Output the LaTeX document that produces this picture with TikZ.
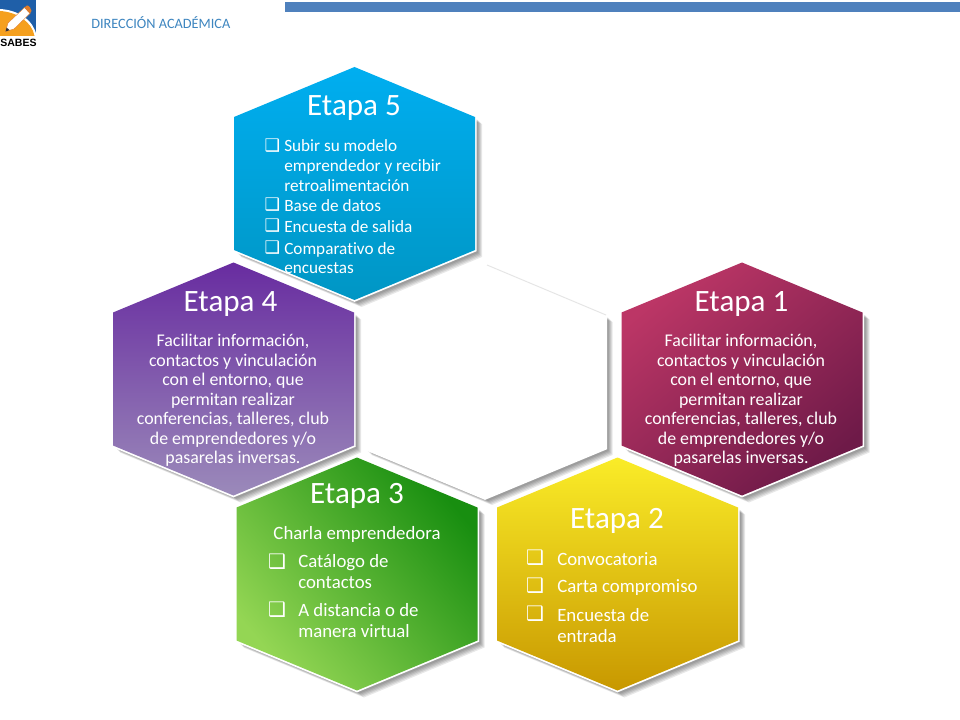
\documentclass[tikz,border=0pt]{standalone}
\usepackage{fontspec}
\setmainfont[RawFeature=-liga]{Carlito}
\newfontfamily\bulfont{DejaVu Sans}
\newfontfamily\logofont{Liberation Sans}
\usetikzlibrary{calc}
\definecolor{barblue}{HTML}{4F81BD}
\definecolor{headblue}{HTML}{3E86C0}
\definecolor{logoblue}{HTML}{1F5FA8}
\definecolor{logoorange}{HTML}{F5A01E}
\definecolor{pencilend}{HTML}{E07B28}
\definecolor{aone}{HTML}{BC3666}
\definecolor{bone}{HTML}{6E1A48}
\definecolor{afour}{HTML}{682CA0}
\definecolor{bfour}{HTML}{9B8ABA}
\definecolor{atwo}{HTML}{FAEC28}
\definecolor{btwo}{HTML}{C89800}
\definecolor{athree}{HTML}{188E10}
\definecolor{bthree}{HTML}{94D654}
\definecolor{afive}{HTML}{00AEF0}
\definecolor{bfive}{HTML}{0096C4}
\tikzset{
  x=0.75pt,y=-0.75pt,
  hexshadow/.style={fill=black,opacity=0.09,draw=none},
  hexrim/.style={fill=white,draw=white,line width=2.6pt,line join=miter},
  hextitle/.style={text=white,font=\fontsize{23.3}{26}\selectfont,anchor=center,inner sep=0pt},
  bodya/.style={text=white,font=\fontsize{13.4}{14.65}\selectfont,align=center,anchor=center,inner sep=0pt},
  bodyb/.style={text=white,font=\fontsize{12.9}{14.7}\selectfont,align=left,anchor=west,inner sep=0pt},
  bodyc/.style={text=white,font=\fontsize{14.1}{15.7}\selectfont,align=left,anchor=west,inner sep=0pt},
  bulb/.style={text=white,font=\bulfont\fontsize{13}{13}\selectfont,anchor=center,inner sep=0pt},
  bulc/.style={text=white,font=\bulfont\fontsize{15}{15}\selectfont,anchor=center,inner sep=0pt},
}
\newcommand{\hexgeom}{(0,-116.5) -- (120.5,-66.5) -- (120.5,66.5) -- (0,116.5) -- (-120.5,66.5) -- (-120.5,-66.5) -- cycle}
% #1 centre, #2 shading options
\newcommand{\hexcell}[2]{%
  \begin{scope}[shift={#1}]
    \foreach \o in {7,6,5,4,3}{\fill[hexshadow,shift={(\o,\o)}] \hexgeom;}
    \draw[hexrim] \hexgeom;
    \shade[#2] \hexgeom;
  \end{scope}}
\begin{document}
\begin{tikzpicture}
\useasboundingbox (0,0) rectangle (960,720);
\fill[white] (0,0) rectangle (960,720);
% header
\fill[barblue] (285,2) rectangle (960,12.5);
\node[text=headblue,font=\fontsize{10.7}{12}\selectfont,anchor=west,inner sep=0pt] (head) at (91,22.5) {DIRECCIÓN ACADÉMICA};
% logo
\fill[logoblue] (0,0) rectangle (36,36);
\fill[white] (0,9) .. controls (18,10) and (34,20) .. (36.5,36) -- (0,36) -- cycle;
\fill[logoorange] (0,11) .. controls (17,12) and (32,22) .. (34.5,36) -- (0,36) -- cycle;
\fill[white,draw=pencilend,line width=0.3pt] (5.5,31.5) -- (8,23) -- (24.5,7.5) -- (30,13.5) -- (14,29) -- cycle;
\fill[pencilend] (24.5,7.5) -- (27,5.5) .. controls (29,5.5) and (31.5,8.5) .. (31.5,11) -- (30,13.5) -- cycle;
\fill[black!80] (5.5,31.5) -- (6.7,27.5) -- (9.5,30.2) -- cycle;
\node[font=\logofont\bfseries\fontsize{7.9}{9}\selectfont,inner sep=0pt] (logo) at (18.5,43) {SABES};
% hexagons
\hexcell{(485,381.5)}{top color=white,bottom color=white}
\draw[black!10,line width=0.7pt] (487,265) -- (606,315);
\hexcell{(742,379)}{top color=aone,bottom color=bone,shading angle=40}
\hexcell{(233.5,379)}{top color=afour,bottom color=bfour}
\hexcell{(617.5,574)}{top color=atwo,bottom color=btwo}
\hexcell{(357,574)}{top color=athree,bottom color=bthree,shading angle=-50}
\hexcell{(354.5,183.5)}{top color=afive,bottom color=bfive}
% Etapa 5
\node[hextitle] (t5) at (354,108.5) {Etapa 5};
\node[bulb] (b51) at (272.5,146) {❑};
\node[bodyb] (i51) at (284,165.5) {Subir su modelo\\emprendedor y recibir\\retroalimentación};
\node[bulb] (b52) at (272.5,205) {❑};
\node[bodyb] (i52) at (284,205.5) {Base de datos};
\node[bulb] (b53) at (272.5,226) {❑};
\node[bodyb] (i53) at (284,226.5) {Encuesta de salida};
\node[bulb] (b54) at (272.5,248) {❑};
\node[bodyb] (i54) at (284,258) {Comparativo de\\encuestas};
% Etapa 4
\node[hextitle] (t4) at (230.5,304.5) {Etapa 4};
\node[bodya] (x4) at (233,400.5) {Facilitar información,\\contactos y vinculación\\con el entorno, que\\permitan realizar\\conferencias, talleres, club\\de emprendedores y/o\\pasarelas inversas.};
% Etapa 1
\node[hextitle] (t1) at (741.5,304.5) {Etapa 1};
\node[bodya] (x1) at (741,400.5) {Facilitar información,\\contactos y vinculación\\con el entorno, que\\permitan realizar\\conferencias, talleres, club\\de emprendedores y/o\\pasarelas inversas.};
% Etapa 3
\node[hextitle] (t3) at (357,495.5) {Etapa 3};
\node[bodyc,anchor=center] (c3) at (357,534) {Charla emprendedora};
\node[bulc] (b31) at (277,562) {❑};
\node[bodyc] (i31) at (298,572) {Catálogo de\\contactos};
\node[bulc] (b32) at (277,610) {❑};
\node[bodyc] (i32) at (298,620.5) {A distancia o de\\manera virtual};
% Etapa 2
\node[hextitle] (t2) at (617,520.5) {Etapa 2};
\node[bulc] (b21) at (535,558) {❑};
\node[bodyc] (i21) at (557,559.5) {Convocatoria};
\node[bulc] (b22) at (535,586) {❑};
\node[bodyc] (i22) at (557,587.5) {Carta compromiso};
\node[bulc] (b23) at (535,614) {❑};
\node[bodyc] (i23) at (557,625.5) {Encuesta de\\entrada};
\end{tikzpicture}
\end{document}
